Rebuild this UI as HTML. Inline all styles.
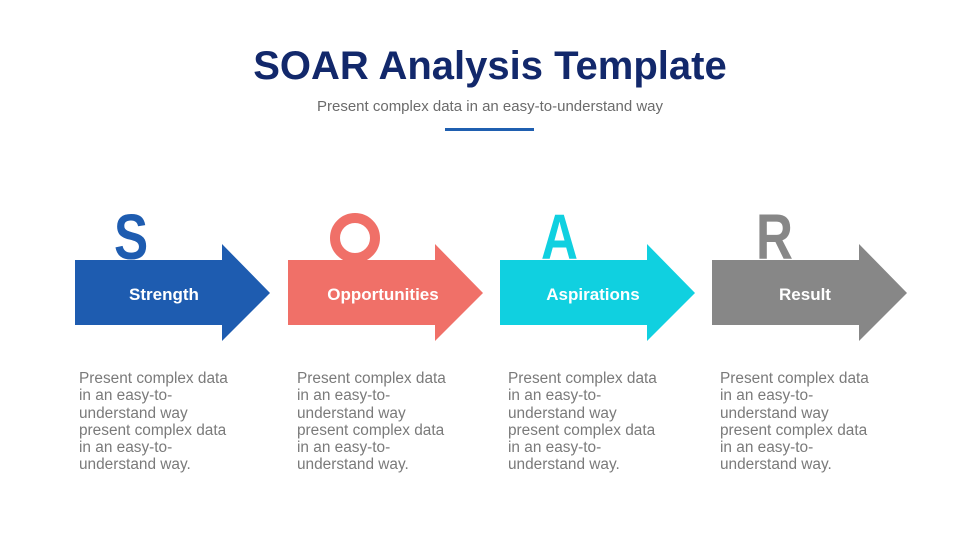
<!DOCTYPE html>
<html><head><style>
body{margin:0;width:980px;height:551px;background:#fff;font-family:"Liberation Sans",sans-serif;position:relative;overflow:hidden}
.a{position:absolute}
h1{position:absolute;top:42px;left:0;width:980px;text-align:center;margin:0;font-size:40px;color:#12286b;font-weight:bold;line-height:48px}
.sub{top:98px;left:0;width:980px;text-align:center;font-size:15px;color:#6b6b6b}
.line{left:445px;top:128px;width:89px;height:3px;background:#1f5fb0}
.p{font-size:15.4px;line-height:17.3px;color:#7a7a7a;top:370px;width:220px}
.L{font-size:64px;font-weight:bold;top:202px;line-height:70px;transform:scaleX(0.8);transform-origin:left top}
.lab{color:#fff;font-weight:bold;font-size:17px;top:285px;text-align:center;width:150px}
</style></head><body>
<h1>SOAR Analysis Template</h1>
<div class="a sub">Present complex data in an easy-to-understand way</div>
<div class="a line"></div>

<div class="a L" style="left:114px;color:#1e5cb0">S</div>
<div class="a" style="left:330px;top:213px;width:30px;height:30px;border:10px solid #f07068;border-radius:50%"></div>
<div class="a L" style="left:541px;color:#10d0e0">A</div>
<div class="a L" style="left:756px;color:#878787">R</div>

<svg class="a" style="left:0;top:0" width="980" height="551">
<polygon points="75,260 222,260 222,244 270,293 222,341 222,325 75,325" fill="#1e5cb0"/>
<polygon points="288,260 435,260 435,244 483,293 435,341 435,325 288,325" fill="#f07068"/>
<polygon points="500,260 647,260 647,244 695,293 647,341 647,325 500,325" fill="#10d0e0"/>
<polygon points="712,260 859,260 859,244 907,293 859,341 859,325 712,325" fill="#878787"/>
</svg>
<div class="a lab" style="left:89px">Strength</div>
<div class="a lab" style="left:308px">Opportunities</div>
<div class="a lab" style="left:518px">Aspirations</div>
<div class="a lab" style="left:730px">Result</div>

<div class="a p" style="left:79px">Present complex data<br>in an easy-to-<br>understand way<br>present complex data<br>in an easy-to-<br>understand way.</div>
<div class="a p" style="left:297px">Present complex data<br>in an easy-to-<br>understand way<br>present complex data<br>in an easy-to-<br>understand way.</div>
<div class="a p" style="left:508px">Present complex data<br>in an easy-to-<br>understand way<br>present complex data<br>in an easy-to-<br>understand way.</div>
<div class="a p" style="left:720px">Present complex data<br>in an easy-to-<br>understand way<br>present complex data<br>in an easy-to-<br>understand way.</div>
</body></html>
